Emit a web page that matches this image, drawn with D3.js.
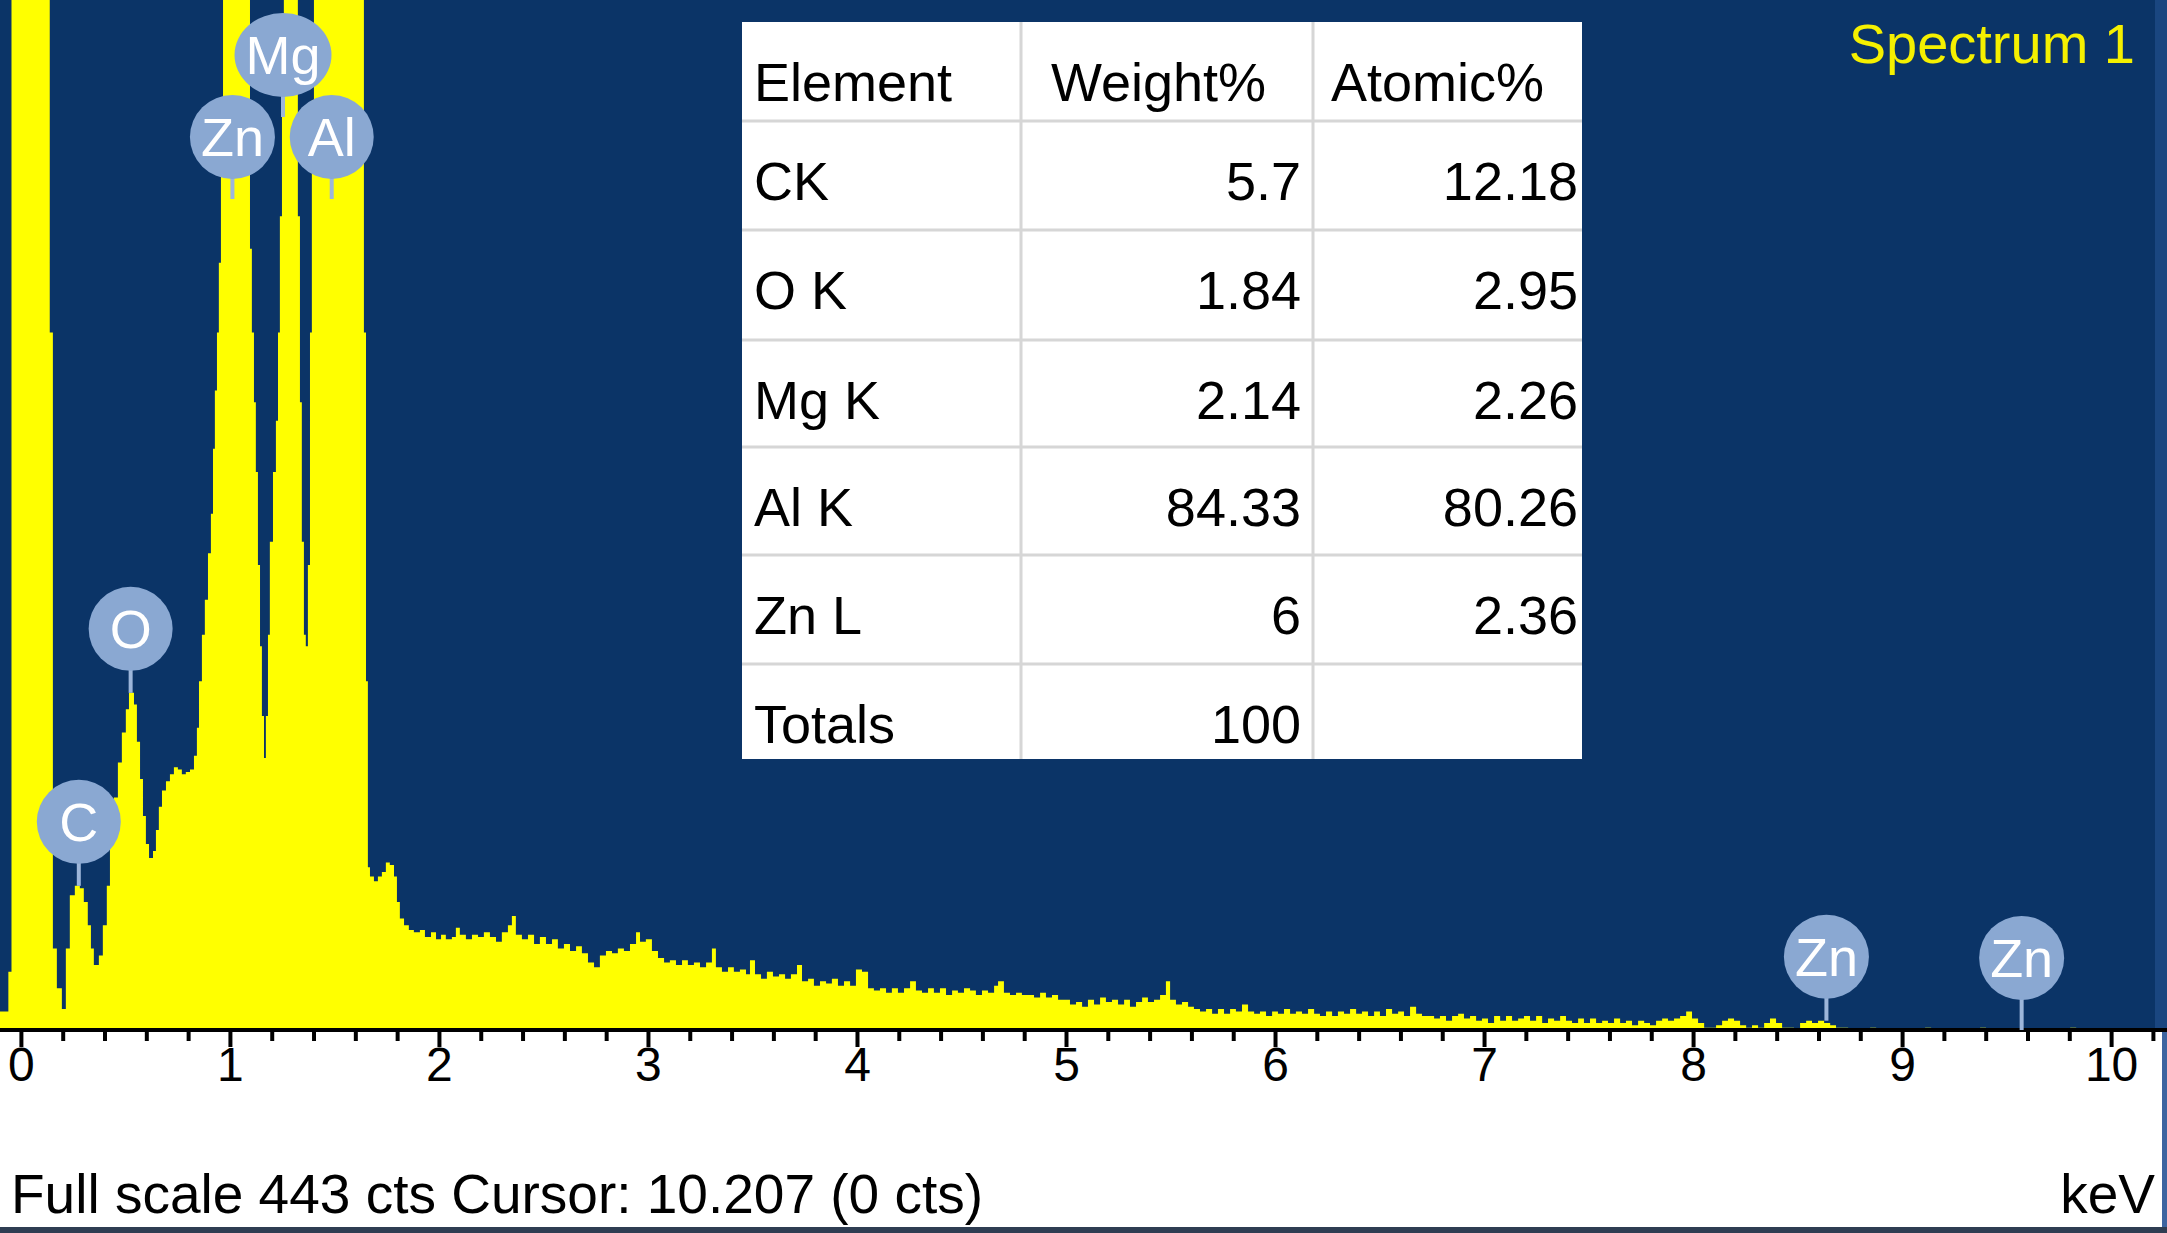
<!DOCTYPE html>
<html>
<head>
<meta charset="utf-8">
<script src="https://cdn.jsdelivr.net/npm/d3@7"></script>
<style>
  html, body { margin: 0; padding: 0; background: #fff; }
  svg { display: block; font-family: "Liberation Sans", Arial, Helvetica, sans-serif; }
</style>
</head>
<body>
<div id="chart"></div>
<script>
// Spectrum trace: [energy where the step starts (keV), counts]
const spectrumTrace = [
  [-0.100, 8], [-0.060, 25], [-0.045, 1400], [0.138, 300], [0.153, 35], [0.172, 18], [0.196, 9], [0.215, 35],
  [0.234, 58], [0.258, 62], [0.282, 61], [0.301, 55], [0.320, 45], [0.335, 35], [0.349, 28],
  [0.373, 32], [0.392, 45], [0.411, 62], [0.426, 80], [0.445, 100], [0.464, 115], [0.483, 128],
  [0.502, 138], [0.517, 145], [0.541, 140], [0.555, 124], [0.570, 108], [0.584, 92], [0.598, 80],
  [0.613, 74], [0.632, 77], [0.646, 86], [0.660, 96], [0.675, 103], [0.694, 107], [0.713, 110],
  [0.732, 113], [0.751, 112], [0.770, 110], [0.789, 111], [0.809, 112], [0.828, 118], [0.842, 130],
  [0.852, 150], [0.866, 170], [0.880, 185], [0.895, 205], [0.909, 222], [0.919, 250], [0.928, 275],
  [0.938, 300], [0.947, 330], [0.957, 380], [0.967, 520], [0.986, 700], [1.048, 560], [1.086, 460],
  [1.096, 336], [1.105, 300], [1.115, 270], [1.124, 240], [1.134, 200], [1.144, 165], [1.153, 135],
  [1.163, 117], [1.172, 135], [1.182, 170], [1.191, 210], [1.206, 240], [1.220, 262], [1.230, 300],
  [1.239, 350], [1.249, 430], [1.258, 560], [1.316, 470], [1.325, 350], [1.335, 270], [1.344, 210],
  [1.354, 170], [1.363, 165], [1.373, 200], [1.383, 300], [1.392, 400], [1.402, 1500], [1.631, 460],
  [1.641, 300], [1.651, 150], [1.660, 70], [1.670, 66], [1.689, 64], [1.708, 66], [1.727, 68],
  [1.746, 72], [1.765, 71], [1.785, 66], [1.799, 55], [1.813, 48], [1.833, 45], [1.856, 43],
  [1.880, 42], [1.909, 43], [1.933, 40], [1.962, 42], [1.986, 39], [2.010, 41], [2.033, 39],
  [2.062, 40], [2.081, 44], [2.100, 41], [2.129, 39], [2.158, 41], [2.187, 40], [2.215, 42],
  [2.244, 40], [2.273, 38], [2.301, 42], [2.330, 45], [2.349, 49], [2.368, 41], [2.397, 39],
  [2.426, 41], [2.455, 37], [2.483, 40], [2.512, 37], [2.541, 39], [2.569, 35], [2.598, 37],
  [2.627, 34], [2.656, 36], [2.684, 33], [2.713, 29], [2.742, 27], [2.770, 32], [2.799, 34],
  [2.828, 33], [2.856, 35], [2.885, 34], [2.914, 37], [2.943, 42], [2.962, 38], [2.990, 39],
  [3.019, 34], [3.048, 31], [3.077, 29], [3.105, 30], [3.134, 28], [3.163, 30], [3.191, 28],
  [3.220, 29], [3.249, 27], [3.278, 29], [3.306, 35], [3.325, 27], [3.354, 25], [3.383, 27],
  [3.411, 25], [3.440, 26], [3.469, 24], [3.488, 30], [3.512, 24], [3.541, 22], [3.569, 25],
  [3.598, 23], [3.627, 24], [3.656, 22], [3.684, 24], [3.713, 28], [3.737, 21], [3.766, 22],
  [3.794, 19], [3.823, 21], [3.852, 20], [3.880, 22], [3.909, 19], [3.938, 21], [3.967, 19],
  [3.995, 26], [4.024, 25], [4.053, 18], [4.081, 17], [4.110, 18], [4.139, 16], [4.167, 18],
  [4.196, 16], [4.225, 18], [4.254, 21], [4.282, 17], [4.311, 16], [4.340, 18], [4.368, 16],
  [4.397, 18], [4.426, 15], [4.455, 17], [4.483, 16], [4.512, 18], [4.541, 17], [4.569, 15],
  [4.598, 17], [4.627, 16], [4.656, 19], [4.675, 21], [4.703, 16], [4.732, 15], [4.761, 16],
  [4.789, 15], [4.818, 15], [4.847, 14], [4.876, 16], [4.904, 14], [4.933, 15], [4.962, 13],
  [4.990, 13], [5.019, 11], [5.048, 12], [5.077, 10], [5.105, 13], [5.134, 11], [5.163, 14],
  [5.191, 12], [5.220, 13], [5.249, 11], [5.278, 13], [5.306, 10], [5.335, 12], [5.364, 14],
  [5.392, 12], [5.421, 13], [5.450, 15], [5.478, 21], [5.498, 13], [5.526, 11], [5.555, 12],
  [5.584, 10], [5.612, 9], [5.641, 8], [5.670, 9], [5.699, 7], [5.727, 9], [5.756, 7],
  [5.785, 9], [5.813, 8], [5.842, 11], [5.871, 8], [5.900, 7], [5.928, 8], [5.957, 6],
  [5.986, 8], [6.014, 7], [6.043, 9], [6.072, 7], [6.100, 8], [6.129, 7], [6.158, 9],
  [6.187, 7], [6.215, 6], [6.244, 8], [6.273, 6], [6.301, 8], [6.330, 7], [6.359, 9],
  [6.388, 7], [6.416, 8], [6.445, 6], [6.474, 8], [6.502, 6], [6.531, 9], [6.560, 7],
  [6.589, 8], [6.617, 6], [6.646, 10], [6.675, 7], [6.703, 6], [6.732, 6], [6.761, 5],
  [6.789, 6], [6.818, 4], [6.847, 6], [6.876, 7], [6.904, 5], [6.933, 6], [6.962, 4],
  [6.990, 5], [7.019, 3], [7.048, 6], [7.077, 4], [7.105, 6], [7.134, 4], [7.163, 5],
  [7.191, 6], [7.220, 4], [7.249, 6], [7.278, 3], [7.306, 5], [7.335, 4], [7.364, 6],
  [7.392, 4], [7.421, 3], [7.450, 5], [7.478, 3], [7.507, 5], [7.536, 3], [7.565, 4],
  [7.593, 3], [7.622, 5], [7.651, 3], [7.679, 4], [7.708, 2], [7.737, 4], [7.766, 3],
  [7.794, 2], [7.823, 4], [7.852, 5], [7.880, 4], [7.909, 5], [7.938, 6], [7.967, 8],
  [7.995, 5], [8.024, 3], [8.053, 1], [8.081, 1], [8.110, 2], [8.139, 4], [8.167, 5],
  [8.196, 4], [8.225, 2], [8.254, 1], [8.282, 2], [8.311, 1], [8.340, 3], [8.368, 5],
  [8.397, 3], [8.426, 1], [8.455, 1], [8.483, 0], [8.512, 3], [8.541, 4], [8.569, 3],
  [8.598, 4], [8.627, 3], [8.656, 2], [8.684, 1], [8.713, 1], [8.742, 0], [8.847, 1],
  [8.876, 0], [9.110, 1], [9.139, 0], [9.373, 1], [9.402, 0], [9.804, 1], [9.833, 0],
  [10.21, 0]
];

// Element markers (line energies in keV)
const markerLabels = ["C", "O", "Zn", "Mg", "Al", "Zn", "Zn"];
const markerKeV = [0.277, 0.525, 1.012, 1.254, 1.487, 8.638, 9.572];

// Quant results table
const tableHeaders = ["Element", "Weight%", "Atomic%"];
const tableElements = ["CK", "O K", "Mg K", "Al K", "Zn L", "Totals"];
const weightPct = ["5.7", "1.84", "2.14", "84.33", "6", "100"];
const atomicPct = ["12.18", "2.95", "2.26", "80.26", "2.36", ""];

// Axis
const tickLabels = ["0", "1", "2", "3", "4", "5", "6", "7", "8", "9", "10"];
const fullScaleCts = 443;
const cursorKeV = "10.207";
const cursorCts = 0;
const spectrumName = "Spectrum 1";


class SpectrumChart {

    constructor(opts) {
        this.element = opts.element || "chart";
        this.width = opts.width || 2167;
        this.height = opts.height || 1233;

        // plot area (blue) and the x axis baseline
        this.plotRight = 2155;
        this.baseline = 1030;

        this.svg = d3.select(`#${this.element}`)
            .append("svg")
            .attr("width", this.width)
            .attr("height", this.height);

        this.createScales();
        this.draw();
    }

    createScales() {
        this.xScale = d3.scaleLinear()
            .domain([-0.1, 10.21])
            .range([0, this.plotRight]);

        this.yScale = d3.scaleLinear()
            .domain([0, fullScaleCts])
            .range([this.baseline, 0]);
    }

    draw() {
        this.addBackground();
        this.addSpectrum();
        this.addAxis();
        this.addMarkers();
        this.addTable();
        this.addLabels();
    }

    addBackground() {
        this.svg.append("rect")
            .attr("width", this.width).attr("height", this.height)
            .attr("fill", "#ffffff");

        this.svg.append("rect")
            .attr("x", 0).attr("y", 0)
            .attr("width", this.plotRight).attr("height", this.baseline)
            .attr("fill", "#0b3467");

        // frame on the right and bottom edge
        this.svg.append("rect")
            .attr("x", this.plotRight).attr("y", 0)
            .attr("width", this.width - this.plotRight).attr("height", this.baseline)
            .attr("fill", "#1a4680");
        this.svg.append("rect")
            .attr("x", 2162).attr("y", this.baseline)
            .attr("width", 5).attr("height", this.height - this.baseline)
            .attr("fill", "#3d64a0");
        this.svg.append("rect")
            .attr("x", 0).attr("y", 1227)
            .attr("width", this.width).attr("height", 6)
            .attr("fill", "#2f3d52");

        this.svg.append("clipPath").attr("id", "plot-clip")
            .append("rect")
            .attr("width", this.plotRight).attr("height", this.baseline);
    }

    addSpectrum() {
        const area = d3.area()
            .x(d => this.xScale(d[0]))
            .y0(this.baseline)
            .y1(d => this.yScale(d[1]))
            .curve(d3.curveStepAfter);

        this.svg.append("path")
            .datum(spectrumTrace)
            .attr("clip-path", "url(#plot-clip)")
            .attr("fill", "#ffff00")
            .attr("d", area);
    }

    addAxis() {
        const majorTicks = tickLabels.map(Number);
        const minorTicks = d3.range(0, 10.21, 0.2)
            .filter(v => Math.abs(v - Math.round(v)) > 0.01);

        const axisG = this.svg.append("g")
            .attr("transform", `translate(0,${this.baseline})`);

        const minor = axisG.append("g")
            .call(d3.axisBottom(this.xScale)
                .tickValues(minorTicks)
                .tickSize(11)
                .tickSizeOuter(0)
                .tickFormat(""));

        const major = axisG.append("g")
            .call(d3.axisBottom(this.xScale)
                .tickValues(majorTicks)
                .tickSize(17)
                .tickSizeOuter(0)
                .tickPadding(0)
                .tickFormat((d, i) => tickLabels[i]));

        minor.select(".domain").remove();
        major.select(".domain")
            .attr("d", `M0,0H${this.width}`)
            .attr("stroke", "#000")
            .attr("stroke-width", 4);

        axisG.selectAll(".tick line")
            .attr("stroke", "#000")
            .attr("stroke-width", 4);

        major.selectAll(".tick text")
            .attr("fill", "#000")
            .style("font-size", "48px")
            .style("font-family", "'Liberation Sans', Arial, sans-serif");
    }

    // counts under a marker: highest step within a small window round the line
    peakCounts(keV) {
        const win = 0.02;
        let best = 0;
        spectrumTrace.forEach((d, i) => {
            const next = spectrumTrace[i + 1] ? spectrumTrace[i + 1][0] : d[0];
            if (next > keV - win && d[0] < keV + win) best = Math.max(best, d[1]);
        });
        return best;
    }

    addMarkers() {
        const r = 42;
        const tiers = [137, 55];
        let lastLow = null;

        const markers = markerLabels.map((label, i) => {
            const cts = this.peakCounts(markerKeV[i]);
            const cx = this.xScale(markerKeV[i]);
            let cy, stemEnd;
            if (cts > fullScaleCts) {
                // peak runs off the top: stack the labels
                if (lastLow !== null && Math.abs(cx - lastLow) < 2 * r + 4) {
                    cy = tiers[1];
                } else {
                    cy = tiers[0];
                    lastLow = cx;
                }
                stemEnd = cy + r + 20;
            } else {
                stemEnd = this.yScale(cts);
                cy = Math.min(stemEnd - 64, 958);
            }
            return { label, cx, cy, stemEnd };
        });

        const g = this.svg.append("g").attr("class", "markers");

        g.selectAll("line")
            .data(markers)
            .enter().append("line")
            .attr("x1", d => d.cx).attr("x2", d => d.cx)
            .attr("y1", d => d.cy).attr("y2", d => d.stemEnd)
            .attr("stroke", "#9db6da")
            .attr("stroke-width", 4);

        const m = g.selectAll(".marker")
            .data(markers)
            .enter().append("g")
            .attr("class", "marker")
            .attr("transform", d => `translate(${d.cx},${d.cy})`);

        m.append("text")
            .attr("text-anchor", "middle")
            .attr("y", 19)
            .attr("fill", "#ffffff")
            .style("font-size", "54px")
            .text(d => d.label)
            .each(function(d) { d.tw = this.getComputedTextLength(); });

        m.insert("ellipse", "text")
            .attr("rx", d => Math.max(r, d.tw / 2 + 11))
            .attr("ry", r)
            .attr("fill", "#8aa8d2");
    }

    addTable() {
        const colEdges = [742, 1021, 1313, 1582];
        const rowEdges = [22, 121, 230, 340, 447, 555, 664, 759];
        const headerInset = [12, 30, 18];

        const rows = [tableHeaders].concat(
            tableElements.map((e, i) => [e, weightPct[i], atomicPct[i]]));

        const table = this.svg.append("g").attr("class", "quant-table");

        table.append("rect")
            .attr("x", colEdges[0]).attr("y", rowEdges[0])
            .attr("width", colEdges[3] - colEdges[0])
            .attr("height", rowEdges[rowEdges.length - 1] - rowEdges[0])
            .attr("fill", "#ffffff");

        // grid lines
        table.selectAll(".hline")
            .data(rowEdges.slice(1, -1))
            .enter().append("line")
            .attr("x1", colEdges[0]).attr("x2", colEdges[3])
            .attr("y1", d => d).attr("y2", d => d)
            .attr("stroke", "#d6d6d6").attr("stroke-width", 3);

        table.selectAll(".vline")
            .data(colEdges.slice(1, -1))
            .enter().append("line")
            .attr("x1", d => d).attr("x2", d => d)
            .attr("y1", rowEdges[0]).attr("y2", rowEdges[rowEdges.length - 1])
            .attr("stroke", "#d6d6d6").attr("stroke-width", 3);

        rows.forEach((row, r) => {
            const baseY = rowEdges[r] + 79;
            row.forEach((cell, c) => {
                let x, anchor;
                if (r === 0 || c === 0) {
                    x = colEdges[c] + headerInset[c];
                    anchor = "start";
                } else {
                    x = colEdges[c + 1] - (c === 1 ? 12 : 4);
                    anchor = "end";
                }
                table.append("text")
                    .attr("x", x).attr("y", baseY)
                    .attr("text-anchor", anchor)
                    .attr("fill", "#000")
                    .style("font-size", "54px")
                    .text(cell);
            });
        });
    }

    addLabels() {
        this.svg.append("text")
            .attr("x", 2135).attr("y", 63)
            .attr("text-anchor", "end")
            .attr("fill", "#f5f000")
            .style("font-size", "56px")
            .text(spectrumName);

        this.svg.append("text")
            .attr("x", 11).attr("y", 1213)
            .attr("fill", "#000")
            .style("font-size", "55px")
            .text(`Full scale ${fullScaleCts} cts Cursor: ${cursorKeV} (${cursorCts} cts)`);

        this.svg.append("text")
            .attr("x", 2155).attr("y", 1213)
            .attr("text-anchor", "end")
            .attr("fill", "#000")
            .style("font-size", "55px")
            .text("keV");
    }
}

new SpectrumChart({ element: "chart", width: 2167, height: 1233 });
</script>
</body>
</html>
